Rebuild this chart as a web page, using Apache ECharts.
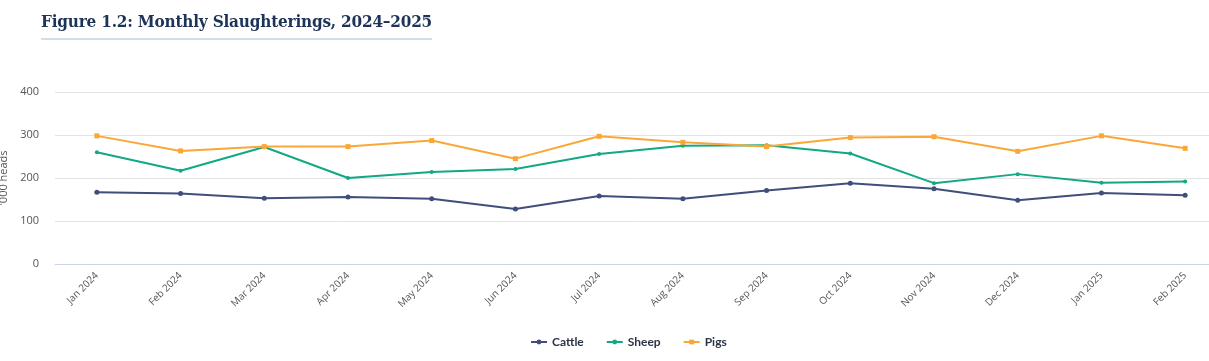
<!DOCTYPE html>
<html>
<head>
<meta charset="utf-8">
<script src="https://cdn.jsdelivr.net/npm/echarts@6/dist/echarts.min.js"></script>
<style>
html,body{margin:0;padding:0;background:#fff;overflow:hidden;}
#title{position:absolute;left:41px;top:11px;font-family:"DejaVu Serif Condensed","DejaVu Serif",serif;font-weight:bold;font-size:17px;color:#1d3357;letter-spacing:-0.2px;padding-bottom:7px;border-bottom:2px solid #d3dde8;white-space:nowrap;}
#chart{position:absolute;left:0;top:0;width:1209px;height:361px;}
</style>
</head>
<body>
<div id="chart"></div>
<div id="title">Figure 1.2: Monthly Slaughterings, 2024–2025</div>
<script>
const categories = ["Jan 2024","Feb 2024","Mar 2024","Apr 2024","May 2024","Jun 2024","Jul 2024","Aug 2024","Sep 2024","Oct 2024","Nov 2024","Dec 2024","Jan 2025","Feb 2025"];
const cattle = [167,164,153,156,152,128,158,152,171,188,175,148,165,160];
const sheep  = [260,217,272,200,214,221,256,275,276,257,188,209,189,192];
const pigs   = [298,263,273,273,287,245,297,283,273,294,296,262,298,269];
const yTicks = [0,100,200,300,400];

const chart = echarts.init(document.getElementById('chart'));
chart.setOption({
  animation:false,
  grid:{left:55, top:92, width:1172, height:172, outerBoundsMode:'none', containLabel:false},
  legend:{bottom:8, left:525, itemGap:22, itemWidth:16, itemHeight:6,
    textStyle:{fontFamily:'Lato', fontWeight:'bold', fontSize:12, color:'#2b3445'},
    data:['Cattle','Sheep','Pigs']},
  xAxis:{type:'category', data:categories, boundaryGap:true,
    axisLine:{lineStyle:{color:'#c9d6ea'}}, axisTick:{show:false},
    axisLabel:{rotate:45, fontSize:10, color:'#555', fontFamily:'Open Sans', margin:10, interval:0}},
  yAxis:{type:'value', min:yTicks[0], max:yTicks[yTicks.length-1], interval:100,
    name:"'000 heads", nameLocation:'middle', nameGap:42, nameRotate:90,
    nameTextStyle:{fontSize:11, color:'#555', fontFamily:'Open Sans'},
    axisLabel:{fontSize:11, color:'#555', fontFamily:'Open Sans', margin:16},
    splitLine:{lineStyle:{color:'#e3e3e3'}}},
  series:[
    {name:'Cattle', type:'line', data:cattle, symbol:'circle', symbolSize:5,
     itemStyle:{color:'#3f4e7b'}, lineStyle:{width:2, color:'#3f4e7b'}},
    {name:'Sheep', type:'line', data:sheep, symbol:'circle', symbolSize:4,
     itemStyle:{color:'#12a883'}, lineStyle:{width:2, color:'#12a883'}},
    {name:'Pigs', type:'line', data:pigs, symbol:'rect', symbolSize:5,
     itemStyle:{color:'#f9a838'}, lineStyle:{width:2, color:'#f9a838'}}
  ]
});
</script>
</body>
</html>
